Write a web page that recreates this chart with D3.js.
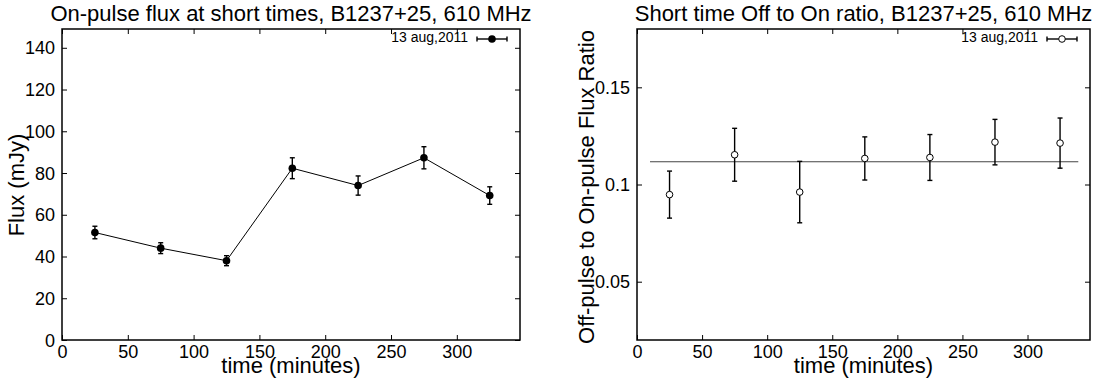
<!doctype html>
<html>
	<head>
		<title>B1237+25 short time flux</title>
		<style>
			body{
				margin: 0;
				background-color: white;
			}
			svg text{
				font-family: "Liberation Sans", Arial, sans-serif;
				fill: black;
			}
		</style>
	</head>
	<body>
		<svg id="chart" width="1112" height="383"></svg>
		<script src="https://d3js.org/d3.v7.min.js" charset="utf-8"></script>
		<script>
			// values
			var times = [25, 75, 125, 175, 225, 275, 325];
			var flux = [51.5, 44.0, 38.0, 82.3, 74.0, 87.3, 69.2];
			var fluxErr = [3.0, 2.6, 2.4, 5.0, 4.6, 5.3, 4.2];
			var ratio = [0.0948, 0.1153, 0.0961, 0.1134, 0.1139, 0.1218, 0.1213];
			var ratioErr = [0.0121, 0.0136, 0.0158, 0.0111, 0.0118, 0.0117, 0.0129];
			var meanRatio = 0.1117;
			var meanSpan = [10, 339];

			var timeTicks = [0, 50, 100, 150, 200, 250, 300];
			var fluxTicks = [0, 20, 40, 60, 80, 100, 120, 140];
			var ratioTicks = [0.05, 0.1, 0.15];
			var legendLabel = "13 aug,2011";

			var svg = d3.select("#chart");

			function panel(opt){
				var g = svg.append("g");
				var x = d3.scaleLinear().domain([0, 348]).range([opt.left, opt.right]);
				var y = d3.scaleLinear().domain(opt.yDomain).range([opt.bottom, opt.top]);

				// ticks on all four sides, pointing inwards (gnuplot style)
				var bottom = g.append("g").attr("transform", "translate(0," + opt.bottom + ")")
					.call(d3.axisBottom(x).tickValues(timeTicks).tickSize(-5).tickPadding(5));
				g.append("g").attr("transform", "translate(0," + opt.top + ")")
					.call(d3.axisTop(x).tickValues(timeTicks).tickSize(-5).tickFormat(""));
				var left = g.append("g").attr("transform", "translate(" + opt.left + ",0)")
					.call(d3.axisLeft(y).tickValues(opt.yTicks).tickSize(-5).tickPadding(7).tickFormat(function(d){ return String(d); }));
				g.append("g").attr("transform", "translate(" + opt.right + ",0)")
					.call(d3.axisRight(y).tickValues(opt.yTicks).tickSize(-5).tickFormat(""));

				g.selectAll(".domain").remove();
				g.selectAll(".tick line").attr("stroke", "black").attr("stroke-width", 1);
				g.selectAll(".tick text").attr("font-size", 18).attr("font-family", null);
				bottom.selectAll(".tick text").attr("dy", "0.71em");
				left.selectAll(".tick text").attr("dy", "0.34em");

				g.append("rect")
					.attr("x", opt.left).attr("y", opt.top)
					.attr("width", opt.right - opt.left).attr("height", opt.bottom - opt.top)
					.attr("fill", "none").attr("stroke", "black").attr("stroke-width", 1.5);

				g.append("text")
					.attr("x", (opt.left + opt.right) / 2).attr("y", 21)
					.attr("text-anchor", "middle").attr("font-size", 22)
					.text(opt.title);
				g.append("text")
					.attr("x", (opt.left + opt.right) / 2).attr("y", 373)
					.attr("text-anchor", "middle").attr("font-size", 22)
					.text("time (minutes)");
				g.append("text")
					.attr("transform", "translate(" + opt.yLabelX + "," + opt.yLabelY + ") rotate(-90)")
					.attr("text-anchor", "middle").attr("font-size", 22)
					.text(opt.yLabel);

				return {g: g, x: x, y: y};
			}

			function errorBars(p, vals, errs){
				var bars = p.g.append("g").attr("stroke", "black").attr("stroke-width", 1.4);
				times.forEach(function(t, i){
					var cx = p.x(t);
					var y0 = p.y(vals[i] - errs[i]), y1 = p.y(vals[i] + errs[i]);
					bars.append("line").attr("x1", cx).attr("x2", cx).attr("y1", y0).attr("y2", y1);
					bars.append("line").attr("x1", cx - 2.5).attr("x2", cx + 2.5).attr("y1", y0).attr("y2", y0);
					bars.append("line").attr("x1", cx - 2.5).attr("x2", cx + 2.5).attr("y1", y1).attr("y2", y1);
				});
			}

			function legend(p, opt, filled){
				var ly = 39, lx0 = opt.right - 43, lx1 = opt.right - 13;
				p.g.append("text")
					.attr("x", lx0 - 9).attr("y", ly + 3).attr("text-anchor", "end")
					.attr("font-size", 14).text(legendLabel);
				var s = p.g.append("g").attr("stroke", "black").attr("stroke-width", 1.4);
				s.append("line").attr("x1", lx0).attr("x2", lx1).attr("y1", ly).attr("y2", ly);
				s.append("line").attr("x1", lx0).attr("x2", lx0).attr("y1", ly - 2.5).attr("y2", ly + 2.5);
				s.append("line").attr("x1", lx1).attr("x2", lx1).attr("y1", ly - 2.5).attr("y2", ly + 2.5);
				s.append("circle").attr("cx", (lx0 + lx1) / 2).attr("cy", ly)
					.attr("r", filled ? 3.8 : 3.3)
					.attr("fill", filled ? "black" : "white")
					.attr("stroke-width", filled ? 0 : 1);
			}

			// left panel: on-pulse flux
			var leftOpt = {left: 62, right: 520, top: 29, bottom: 340,
				yDomain: [0, 149], yTicks: fluxTicks,
				title: "On-pulse flux at short times, B1237+25, 610 MHz",
				yLabel: "Flux (mJy)", yLabelX: 24, yLabelY: 185};
			var pl = panel(leftOpt);

			var fluxLine = d3.line()
				.x(function(d, i){ return pl.x(times[i]); })
				.y(function(d){ return pl.y(d); });
			pl.g.append("path").datum(flux)
				.attr("d", fluxLine).attr("fill", "none")
				.attr("stroke", "black").attr("stroke-width", 1);
			errorBars(pl, flux, fluxErr);
			pl.g.selectAll(".pt").data(flux).enter().append("circle")
				.attr("class", "pt")
				.attr("cx", function(d, i){ return pl.x(times[i]); })
				.attr("cy", function(d){ return pl.y(d); })
				.attr("r", 3.8).attr("fill", "black");
			legend(pl, leftOpt, true);

			// right panel: off/on ratio
			var rightOpt = {left: 637, right: 1090, top: 29, bottom: 340,
				yDomain: [0.02, 0.18], yTicks: ratioTicks,
				title: "Short time Off to On ratio, B1237+25, 610 MHz",
				yLabel: "Off-pulse to On-pulse Flux Ratio", yLabelX: 594, yLabelY: 187};
			var pr = panel(rightOpt);

			pr.g.append("line")
				.attr("x1", pr.x(meanSpan[0])).attr("x2", pr.x(meanSpan[1]))
				.attr("y1", pr.y(meanRatio)).attr("y2", pr.y(meanRatio))
				.attr("stroke", "#444").attr("stroke-width", 1.2);
			errorBars(pr, ratio, ratioErr);
			pr.g.selectAll(".pt").data(ratio).enter().append("circle")
				.attr("class", "pt")
				.attr("cx", function(d, i){ return pr.x(times[i]); })
				.attr("cy", function(d){ return pr.y(d); })
				.attr("r", 3.3).attr("fill", "white")
				.attr("stroke", "black").attr("stroke-width", 1);
			legend(pr, rightOpt, false);
		</script>
	</body>
</html>
